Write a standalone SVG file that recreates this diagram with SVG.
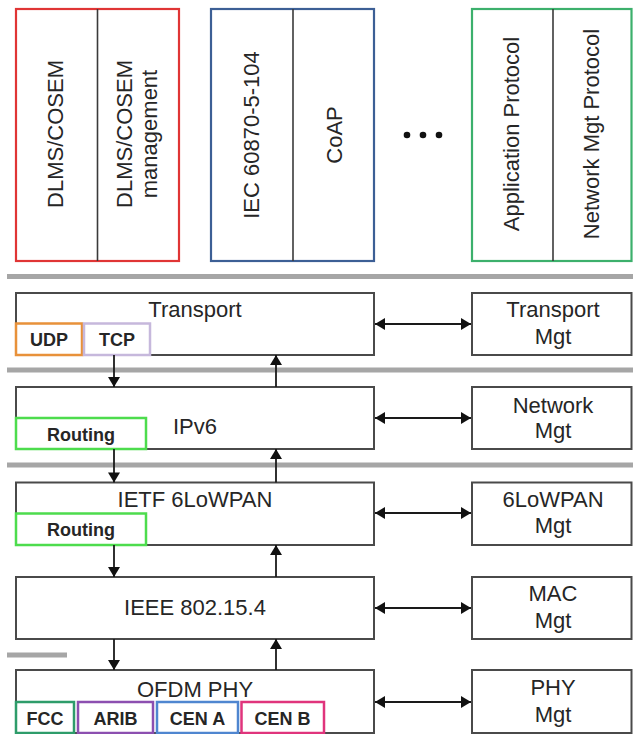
<svg xmlns="http://www.w3.org/2000/svg" width="633" height="734" viewBox="0 0 633 734">
<defs>
<style>
.bx{fill:#fff;stroke:#4a4a4a;stroke-width:2}
.dv{stroke:#3a3a3a;stroke-width:1.6}
.sep{stroke:#a6a6a6;stroke-width:5}
.t{font-family:"Liberation Sans",Arial,sans-serif;font-size:22px;fill:#262626;text-anchor:middle}
.b{font-family:"Liberation Sans",Arial,sans-serif;font-size:18px;font-weight:bold;fill:#262626;text-anchor:middle}
.sb{fill:#fff;stroke-width:2.5}
.ln{stroke:#1a1a1a;stroke-width:1.8;fill:none}
</style>
<marker id="ah" viewBox="0 0 10 12" refX="10" refY="6" markerWidth="11" markerHeight="12" markerUnits="userSpaceOnUse" orient="auto-start-reverse">
<path d="M0,0 L10,6 L0,12 Z" fill="#111"/>
</marker>
</defs>
<rect width="633" height="734" fill="#fff"/>

<g id="separators">
<line class="sep" x1="7" y1="276.5" x2="633" y2="276.5"/>
<line class="sep" x1="7" y1="370" x2="633" y2="370"/>
<line class="sep" x1="7" y1="465" x2="633" y2="465"/>
<line class="sep" x1="7" y1="655" x2="67" y2="655" stroke-width="3.5"/>
</g>

<g id="dlms">
<rect x="16" y="9" width="163" height="252" fill="#fff" stroke="#e03535" stroke-width="2.2"/>
<line class="dv" x1="97.5" y1="9" x2="97.5" y2="261"/>
<text class="t" transform="translate(63,134) rotate(-90)">DLMS/COSEM</text>
<text class="t" transform="translate(131.5,134) rotate(-90)">DLMS/COSEM</text>
<text class="t" transform="translate(156.5,134) rotate(-90)">management</text>
</g>

<g id="iec">
<rect x="211" y="9" width="163" height="252" fill="#fff" stroke="#3c5f95" stroke-width="2.2"/>
<line class="dv" x1="293" y1="9" x2="293" y2="261"/>
<text class="t" transform="translate(258.5,135) rotate(-90)">IEC 60870-5-104</text>
<text class="t" transform="translate(341.5,135) rotate(-90)">CoAP</text>
</g>

<g id="dots" fill="#111">
<circle cx="407" cy="135" r="3.3"/>
<circle cx="423" cy="135" r="3.3"/>
<circle cx="439" cy="135" r="3.3"/>
</g>

<g id="appproto">
<rect x="472" y="9" width="159.5" height="252" fill="#fff" stroke="#3cb06c" stroke-width="2.2"/>
<line class="dv" x1="553" y1="9" x2="553" y2="261"/>
<text class="t" transform="translate(519,134) rotate(-90)">Application Protocol</text>
<text class="t" transform="translate(598.5,134) rotate(-90)">Network Mgt Protocol</text>
</g>

<g id="transport">
<rect class="bx" x="16" y="293" width="358" height="62"/>
<text class="t" x="195" y="317">Transport</text>
<rect class="sb" x="16" y="323.5" width="66" height="31.5" stroke="#e8913a"/>
<text class="b" x="49" y="346">UDP</text>
<rect class="sb" x="84" y="323.5" width="66" height="31.5" stroke="#c6b8dc"/>
<text class="b" x="117" y="346">TCP</text>
</g>

<g id="ipv6">
<rect class="bx" x="16" y="387" width="358" height="62"/>
<text class="t" x="195" y="434">IPv6</text>
<rect class="sb" x="16" y="418" width="130" height="31" stroke="#4ddc4d"/>
<text class="b" x="81" y="440.5">Routing</text>
</g>

<g id="lowpan">
<rect class="bx" x="16" y="482.5" width="358" height="62.5"/>
<text class="t" x="195" y="507">IETF 6LoWPAN</text>
<rect class="sb" x="16" y="513.5" width="130" height="31.5" stroke="#4ddc4d"/>
<text class="b" x="81" y="536">Routing</text>
</g>

<g id="ieee">
<rect class="bx" x="16" y="577" width="358" height="62"/>
<text class="t" x="195" y="615">IEEE 802.15.4</text>
</g>

<g id="ofdm">
<rect class="bx" x="16" y="670" width="358" height="63"/>
<text class="t" x="195" y="697">OFDM PHY</text>
<rect class="sb" x="16" y="702" width="58" height="31" stroke="#2e9c6a"/>
<text class="b" x="45" y="724.5">FCC</text>
<rect class="sb" x="78" y="702" width="75" height="31" stroke="#8c4fb0"/>
<text class="b" x="115.5" y="724.5">ARIB</text>
<rect class="sb" x="157" y="702" width="81" height="31" stroke="#4f86d0"/>
<text class="b" x="197.5" y="724.5">CEN A</text>
<rect class="sb" x="241.5" y="702" width="82.5" height="31" stroke="#e0347c"/>
<text class="b" x="282.5" y="724.5">CEN B</text>
</g>

<g id="transport-mgt">
<rect class="bx" x="472" y="293" width="159.5" height="62"/>
<text class="t" x="553" y="317">Transport</text>
<text class="t" x="553" y="344">Mgt</text>
</g>
<g id="network-mgt">
<rect class="bx" x="472" y="387" width="159.5" height="62"/>
<text class="t" x="553" y="413">Network</text>
<text class="t" x="553" y="438">Mgt</text>
</g>
<g id="lowpan-mgt">
<rect class="bx" x="472" y="482.5" width="159.5" height="62.5"/>
<text class="t" x="553" y="507">6LoWPAN</text>
<text class="t" x="553" y="533">Mgt</text>
</g>
<g id="mac-mgt">
<rect class="bx" x="472" y="577" width="159.5" height="62"/>
<text class="t" x="553" y="601">MAC</text>
<text class="t" x="553" y="628">Mgt</text>
</g>
<g id="phy-mgt">
<rect class="bx" x="472" y="670" width="159.5" height="63"/>
<text class="t" x="553" y="695">PHY</text>
<text class="t" x="553" y="722">Mgt</text>
</g>

<g id="connectors">
<line class="ln" x1="114" y1="355" x2="114" y2="387" marker-end="url(#ah)"/>
<line class="ln" x1="276" y1="387" x2="276" y2="355" marker-end="url(#ah)"/>
<line class="ln" x1="114" y1="449" x2="114" y2="482.5" marker-end="url(#ah)"/>
<line class="ln" x1="276" y1="482.5" x2="276" y2="449" marker-end="url(#ah)"/>
<line class="ln" x1="114" y1="545" x2="114" y2="577" marker-end="url(#ah)"/>
<line class="ln" x1="276" y1="577" x2="276" y2="545" marker-end="url(#ah)"/>
<line class="ln" x1="114" y1="639" x2="114" y2="670" marker-end="url(#ah)"/>
<line class="ln" x1="276" y1="670" x2="276" y2="639" marker-end="url(#ah)"/>
<line class="ln" x1="375" y1="324" x2="471" y2="324" marker-start="url(#ah)" marker-end="url(#ah)"/>
<line class="ln" x1="375" y1="418" x2="471" y2="418" marker-start="url(#ah)" marker-end="url(#ah)"/>
<line class="ln" x1="375" y1="513" x2="471" y2="513" marker-start="url(#ah)" marker-end="url(#ah)"/>
<line class="ln" x1="375" y1="608" x2="471" y2="608" marker-start="url(#ah)" marker-end="url(#ah)"/>
<line class="ln" x1="375" y1="702" x2="471" y2="702" marker-start="url(#ah)" marker-end="url(#ah)"/>
</g>
</svg>
